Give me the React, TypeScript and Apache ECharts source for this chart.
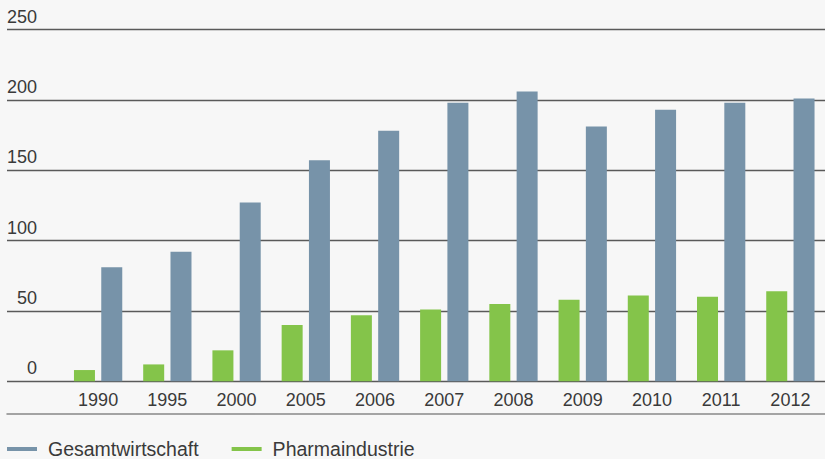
import React, { useEffect, useRef } from "react";
import * as echarts from "echarts";

// Jahre und Werte (Index-Werte, beide Reihen)
const years = ["1990", "1995", "2000", "2005", "2006", "2007", "2008", "2009", "2010", "2011", "2012"];
const pharma = [8, 12, 22, 40, 47, 51, 55, 58, 61, 60, 64];
const gesamt = [81, 92, 127, 157, 178, 198, 206, 181, 193, 198, 201];
const yTicks = { min: 0, max: 250, interval: 50 };

const seriesNames = { gesamt: "Gesamtwirtschaft", pharma: "Pharmaindustrie" };
const colors = { gesamt: "#7793a9", pharma: "#84c44a" };

const FONT = "'Liberation Sans', Arial, Helvetica, sans-serif";
const TEXT = "#3a3a3a";

export default function App() {
  const ref = useRef<HTMLDivElement>(null);

  useEffect(() => {
    if (!ref.current) return;
    const chart = echarts.init(ref.current, undefined, { renderer: "svg" });
    chart.setOption({
      animation: false,
      backgroundColor: "#f7f7f7",
      textStyle: { fontFamily: FONT, color: TEXT },
      legend: {
        left: 7,
        top: 439,
        icon: "rect",
        itemWidth: 30,
        itemHeight: 4,
        itemGap: 33,
        padding: 0,
        data: [seriesNames.gesamt, seriesNames.pharma],
        textStyle: {
          fontSize: 19.5,
          lineHeight: 19,
          color: TEXT,
          fontFamily: FONT,
          padding: [0, 0, 0, 6],
        },
      },
      grid: [
        // full-width frame: gridlines and y labels
        { left: 7, right: 0, top: 29.5, bottom: 77.7, outerBoundsMode: "none", containLabel: false },
        // bars
        { left: 63.5, right: 0, top: 29.5, bottom: 77.7, outerBoundsMode: "none", containLabel: false },
      ],
      xAxis: [
        {
          gridIndex: 0,
          type: "category",
          data: ["", ""],
          offset: 32,
          axisLine: { show: true, onZero: false, lineStyle: { color: "#888", width: 1.5 } },
          axisTick: { show: false },
          axisLabel: { show: false },
          splitLine: { show: false },
        },
        {
          gridIndex: 1,
          type: "category",
          data: years,
          axisLine: { show: false },
          axisTick: { show: false },
          axisLabel: { fontSize: 18, color: TEXT, fontFamily: FONT, margin: 10 },
        },
      ],
      yAxis: [
        {
          gridIndex: 0,
          type: "value",
          ...yTicks,
          axisLine: { show: false },
          axisTick: { show: false },
          splitLine: { show: true, lineStyle: { color: "#5a5a5a", width: 1.3 } },
          axisLabel: {
            inside: true,
            align: "right",
            verticalAlign: "bottom",
            margin: 30,
            fontSize: 18,
            lineHeight: 18,
            padding: [0, 0, 4, 0],
            color: TEXT,
            fontFamily: FONT,
          },
        },
        {
          gridIndex: 1,
          type: "value",
          ...yTicks,
          show: false,
          splitLine: { show: false },
        },
      ],
      series: [
        {
          name: seriesNames.pharma,
          type: "bar",
          xAxisIndex: 1,
          yAxisIndex: 1,
          data: pharma,
          barWidth: 21,
          barGap: "30%",
          itemStyle: { color: colors.pharma },
        },
        {
          name: seriesNames.gesamt,
          type: "bar",
          xAxisIndex: 1,
          yAxisIndex: 1,
          data: gesamt,
          barWidth: 21,
          barGap: "30%",
          itemStyle: { color: colors.gesamt },
        },
      ],
    });
    return () => chart.dispose();
  }, []);

  return (
    <div
      ref={ref}
      style={{ position: "fixed", left: 0, top: 0, width: 825, height: 459 }}
    />
  );
}
